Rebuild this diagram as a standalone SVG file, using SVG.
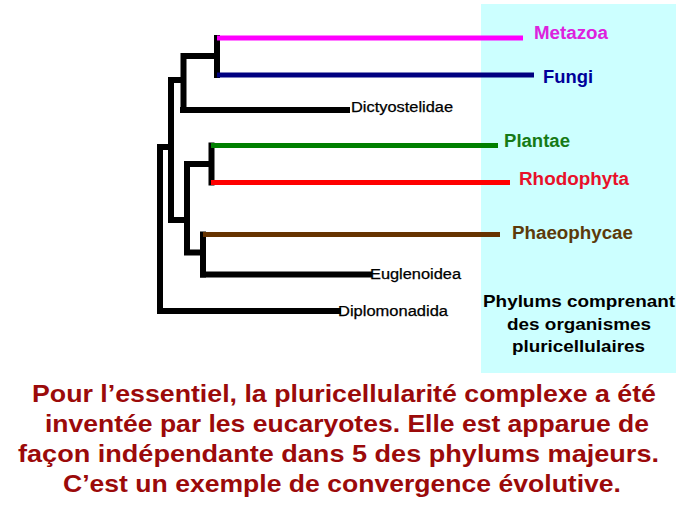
<svg xmlns="http://www.w3.org/2000/svg" width="689" height="517" viewBox="0 0 689 517">
<style>
.t{stroke:#000;stroke-width:6;fill:none;stroke-linecap:square}
.b{stroke-width:5;fill:none;stroke-linecap:butt}
.lab{font-family:"Liberation Sans",Arial,sans-serif;font-weight:bold;font-size:17.5px}
.sm{font-family:"Liberation Sans",Arial,sans-serif;font-size:14px;fill:#000;stroke:#000;stroke-width:0.25}
.ph{font-family:"Liberation Sans",Arial,sans-serif;font-weight:bold;font-size:16.5px;fill:#000;text-anchor:middle}
.cap{font-family:"Liberation Sans",Arial,sans-serif;font-weight:bold;font-size:24px;fill:#9b0a0a;text-anchor:middle}
</style>
<rect width="689" height="517" fill="#fff"/>
<rect id="zone" x="481" y="4" width="195" height="369" fill="#ccffff"/>
<g id="connectors">
<path class="t" d="M217 38V75M184 56H217M183.5 56V110M171 80H183.5M171 80V220M171 220H187M187 164V252.5M187 164H211.5M211.5 145.5V182.5M187 252.5H203M203 234.5V274.5M160 147H171M160 147V311"/>
<path class="t" stroke-linecap="butt" d="M183 110H347M203 274.5H369M160 311H338"/>
<path class="b" stroke="#ff00ff" d="M217 38H523"/>
<path class="b" stroke="#000080" d="M217 75H534"/>
<path class="b" stroke="#008000" d="M211 145.5H498"/>
<path class="b" stroke="#ff0000" d="M211 182.5H510"/>
<path class="b" stroke="#663300" d="M203 234.5H500"/>
</g>
<g id="metazoa"><text class="lab" x="534" y="39" fill="#dd22dd" textLength="74" lengthAdjust="spacingAndGlyphs">Metazoa</text></g>
<g id="fungi"><text class="lab" x="543" y="82.5" fill="#000099" textLength="50" lengthAdjust="spacingAndGlyphs">Fungi</text></g>
<g id="dictyostelidae"><text class="sm" x="351" y="111.5" textLength="102" lengthAdjust="spacingAndGlyphs">Dictyostelidae</text></g>
<g id="plantae"><text class="lab" x="504" y="146.5" fill="#167a16" textLength="66" lengthAdjust="spacingAndGlyphs">Plantae</text></g>
<g id="rhodophyta"><text class="lab" x="519" y="184.5" fill="#e8102a" textLength="110" lengthAdjust="spacingAndGlyphs">Rhodophyta</text></g>
<g id="phaeophycae"><text class="lab" x="512" y="238.5" fill="#5c3a0a" textLength="121" lengthAdjust="spacingAndGlyphs">Phaeophycae</text></g>
<g id="euglenoidea"><text class="sm" x="370" y="278.5" textLength="91" lengthAdjust="spacingAndGlyphs">Euglenoidea</text></g>
<g id="diplomonadida"><text class="sm" x="338" y="316" textLength="110" lengthAdjust="spacingAndGlyphs">Diplomonadida</text></g>
<g id="phylums">
<text class="ph" x="579" y="307" textLength="192" lengthAdjust="spacingAndGlyphs">Phylums comprenant</text>
<text class="ph" x="579" y="330" textLength="144" lengthAdjust="spacingAndGlyphs">des organismes</text>
<text class="ph" x="578.5" y="352" textLength="133" lengthAdjust="spacingAndGlyphs">pluricellulaires</text>
</g>
<g id="caption">
<text class="cap" x="344" y="402" textLength="624" lengthAdjust="spacingAndGlyphs">Pour l’essentiel, la pluricellularité complexe a été</text>
<text class="cap" x="347" y="432" textLength="604" lengthAdjust="spacingAndGlyphs">inventée par les eucaryotes. Elle est apparue de</text>
<text class="cap" x="338.5" y="462" textLength="641" lengthAdjust="spacingAndGlyphs">façon indépendante dans 5 des phylums majeurs.</text>
<text class="cap" x="342" y="492" textLength="558" lengthAdjust="spacingAndGlyphs">C’est un exemple de convergence évolutive.</text>
</g>
</svg>
